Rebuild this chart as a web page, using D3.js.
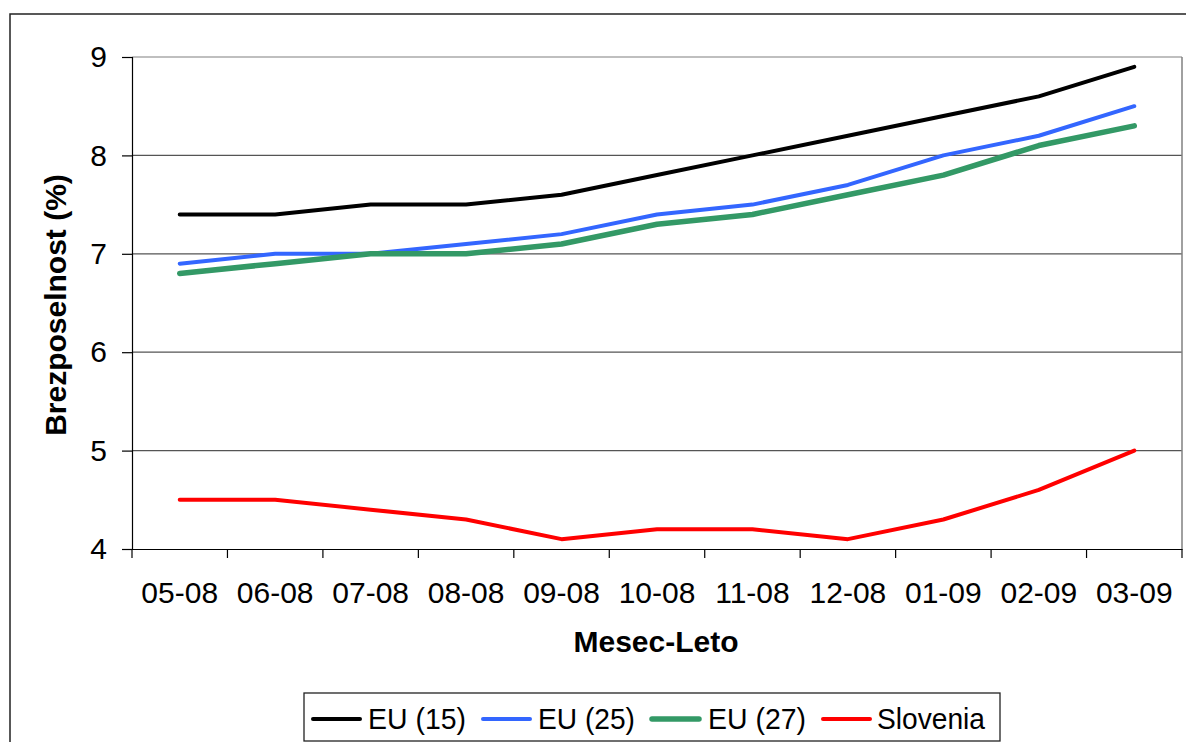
<!DOCTYPE html>
<html><head><meta charset="utf-8">
<script src="https://cdn.jsdelivr.net/npm/d3@7"></script>
<style>body{margin:0;background:#fff;font-family:"Liberation Sans",Arial,sans-serif;}</style>
</head><body><svg id="c" width="1186" height="742"></svg>
<script>
const categories = ["05-08","06-08","07-08","08-08","09-08","10-08","11-08","12-08","01-09","02-09","03-09"];
const seriesNames = ["EU (15)","EU (25)","EU (27)","Slovenia"];
const eu15 = [7.4,7.4,7.5,7.5,7.6,7.8,8.0,8.2,8.4,8.6,8.9];
const eu25 = [6.9,7.0,7.0,7.1,7.2,7.4,7.5,7.7,8.0,8.2,8.5];
const eu27 = [6.8,6.9,7.0,7.0,7.1,7.3,7.4,7.6,7.8,8.1,8.3];
const slovenia = [4.5,4.5,4.4,4.3,4.1,4.2,4.2,4.1,4.3,4.6,5.0];
const yTicks = [4,5,6,7,8,9];

const svg = d3.select("#c");
const FF = "Liberation Sans, Arial, sans-serif";
const L = 132, R = 1182, T = 57, B = 549;
const x = d3.scaleBand().domain(categories).range([L, R]);
const y = d3.scaleLinear().domain([4, 9]).range([B, T]);

// outer chart border
svg.append("rect").attr("x",10).attr("y",14).attr("width",1200).attr("height",800)
  .attr("fill","none").attr("stroke","#222").attr("stroke-width",1.5);

// gridlines
svg.append("g").selectAll("line").data(yTicks.filter(d=>d>4)).join("line")
  .attr("x1",L).attr("x2",R).attr("y1",d=>y(d)).attr("y2",d=>y(d))
  .attr("stroke",d=>d===9?"#808080":"#555").attr("stroke-width",1.2);
// plot right border
svg.append("line").attr("x1",R).attr("x2",R).attr("y1",T).attr("y2",B)
  .attr("stroke","#808080").attr("stroke-width",1.5);

// y axis
const ya = svg.append("g").attr("transform",`translate(${L},0)`)
  .call(d3.axisLeft(y).tickValues(yTicks).tickSize(10).tickPadding(15).tickFormat(d3.format("d")));
ya.select(".domain").attr("stroke","#000").attr("stroke-width",1.2);
ya.selectAll(".tick line").attr("stroke","#000").attr("stroke-width",1.2);
ya.selectAll("text").attr("font-size",30).attr("fill","#000").attr("font-family",FF);

// x axis
const xa = svg.append("g").attr("transform",`translate(0,${B})`)
  .call(d3.axisBottom(x).tickSize(0));
xa.select(".domain").attr("stroke","#000").attr("stroke-width",1.2);
xa.selectAll("text").attr("font-size",30).attr("fill","#000").attr("font-family",FF)
  .attr("y",54).attr("dy",null);
// boundary ticks
const bounds = categories.map(c=>x(c)).concat([R]);
svg.append("g").selectAll("line").data(bounds).join("line")
  .attr("x1",d=>d).attr("x2",d=>d).attr("y1",B).attr("y2",B+9)
  .attr("stroke","#000").attr("stroke-width",1.2);

// titles
svg.append("text").attr("x",656).attr("y",652).attr("text-anchor","middle")
  .attr("font-size",30).attr("font-weight","bold").attr("font-family",FF).text("Mesec-Leto");
svg.append("text").attr("transform","translate(66,305) rotate(-90)").attr("text-anchor","middle")
  .attr("font-size",30).attr("font-weight","bold").attr("font-family",FF).text("Brezposelnost (%)");

// lines
const series = [
  {name:seriesNames[0], vals:eu15, color:"#000000", w:4},
  {name:seriesNames[1], vals:eu25, color:"#3366FF", w:4},
  {name:seriesNames[2], vals:eu27, color:"#339966", w:5.5},
  {name:seriesNames[3], vals:slovenia, color:"#FF0000", w:4}
];
const line = d3.line().x((d,i)=>x(categories[i])+x.bandwidth()/2).y(d=>y(d));
svg.append("g").selectAll("path").data(series).join("path")
  .attr("d",d=>line(d.vals)).attr("fill","none")
  .attr("stroke",d=>d.color).attr("stroke-width",d=>d.w)
  .attr("stroke-linejoin","round").attr("stroke-linecap","round");

// legend
svg.append("rect").attr("x",304).attr("y",693).attr("width",696).attr("height",48)
  .attr("fill","#fff").attr("stroke","#222").attr("stroke-width",1.3);
const legX = [313,483,652,823];
const lg = svg.append("g").selectAll("g").data(series).join("g")
  .attr("transform",(d,i)=>`translate(${legX[i]},719)`);
lg.append("line").attr("x1",0).attr("x2",47).attr("y1",0).attr("y2",0)
  .attr("stroke",d=>d.color).attr("stroke-width",d=>d.w).attr("stroke-linecap","round");
lg.append("text").attr("x",(d,i)=>[55,55,56,54][i]).attr("y",10).attr("font-size",29).attr("font-family",FF)
  .attr("textLength",(d,i)=>[98,97,98,108][i]).attr("lengthAdjust","spacingAndGlyphs")
  .text(d=>d.name);
</script></body></html>
